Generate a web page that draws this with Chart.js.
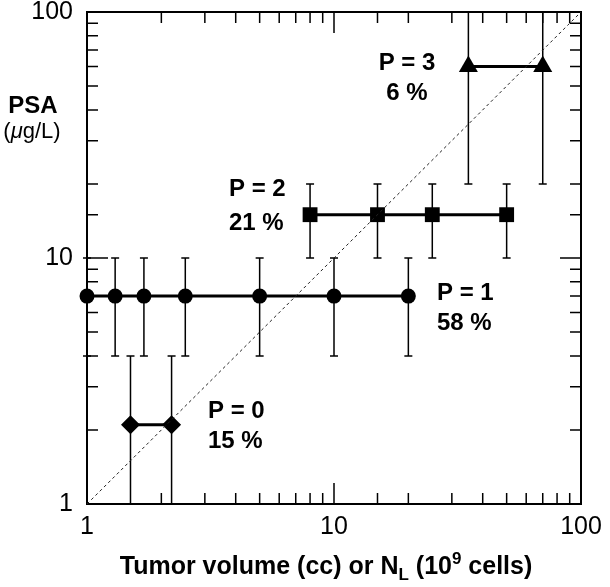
<!DOCTYPE html>
<html>
<head>
<meta charset="utf-8">
<script src="https://cdn.jsdelivr.net/npm/chart.js@4.4.1/dist/chart.umd.min.js"></script>
<style>
  html, body { margin: 0; padding: 0; background: #fff; }
  canvas { display: block; }
</style>
</head>
<body>
<canvas id="psaChart" width="610" height="587"></canvas>
<script>
// tumour volume (x) vs PSA (y) per P group, PSA range gives the error bars
var p0X = [1.5, 2.2];
var p0Y = [2.1, 2.1];
var p0Low = [1, 1];
var p0High = [4, 4];

var p1X = [1, 1.3, 1.7, 2.5, 5, 10, 20];
var p1Y = [7, 7, 7, 7, 7, 7, 7];
var p1Low = [4, 4, 4, 4, 4, 4, 4];
var p1High = [10, 10, 10, 10, 10, 10, 10];

var p2X = [8, 15, 25, 50];
var p2Y = [15, 15, 15, 15];
var p2Low = [10, 10, 10, 10];
var p2High = [20, 20, 20, 20];

var p3X = [35, 70];
var p3Y = [60, 60];
var p3Low = [20, 20];
var p3High = [100, 100];

// y = x reference line
var diagX = [1, 100];
var diagY = [1, 100];

var xTickLabels = [1, 10, 100];
var yTickLabels = [1, 10, 100];

var groupLabels = ['P = 0', 'P = 1', 'P = 2', 'P = 3'];
var groupShares = ['15 %', '58 %', '21 %', '6 %'];

var FONT = '"Liberation Sans", Arial, Helvetica, sans-serif';

function pts(xs, ys) {
    return xs.map(function (x, i) { return { x: x, y: ys[i] }; });
}

function isDecade(v) {
    var l = Math.log10(v);
    return Math.abs(l - Math.round(l)) < 1e-6;
}

function inList(list, v) {
    return list.some(function (t) { return Math.abs(t - v) < 1e-6; });
}

function group(xs, ys, lo, hi, style, r) {
    return {
        data: pts(xs, ys),
        errLow: lo,
        errHigh: hi,
        showLine: true,
        borderColor: '#000',
        borderWidth: 3,
        pointStyle: style,
        pointRadius: r,
        pointBackgroundColor: '#000',
        pointBorderColor: '#000',
        pointBorderWidth: 0,
        clip: false
    };
}

// frame, inward ticks on all four sides, error bars
var framePlugin = {
    id: 'framePlugin',
    beforeDatasetsDraw: function (chart) {
        var ctx = chart.ctx, a = chart.chartArea;
        var xs = chart.scales.x, ys = chart.scales.y;
        ctx.save();
        ctx.strokeStyle = '#000';
        ctx.lineWidth = 1.5;
        ctx.beginPath();
        xs.ticks.forEach(function (t) {
            if (t.value <= 1 || t.value >= 100) return;
            var len = isDecade(t.value) ? 21 : 11;
            var px = xs.getPixelForValue(t.value);
            ctx.moveTo(px, a.bottom); ctx.lineTo(px, a.bottom - len);
            ctx.moveTo(px, a.top); ctx.lineTo(px, a.top + len);
        });
        ys.ticks.forEach(function (t) {
            if (t.value <= 1 || t.value >= 100) return;
            var len = isDecade(t.value) ? 21 : 11;
            var py = ys.getPixelForValue(t.value);
            ctx.moveTo(a.left, py); ctx.lineTo(a.left + len, py);
            ctx.moveTo(a.right, py); ctx.lineTo(a.right - len, py);
        });
        ctx.stroke();

        // error bars
        ctx.lineWidth = 1.5;
        ctx.beginPath();
        chart.data.datasets.forEach(function (ds) {
            if (!ds.errLow) return;
            ds.data.forEach(function (d, j) {
                var px = xs.getPixelForValue(d.x);
                var top = ys.getPixelForValue(ds.errHigh[j]);
                var bot = ys.getPixelForValue(ds.errLow[j]);
                ctx.moveTo(px, top); ctx.lineTo(px, bot);
                ctx.moveTo(px - 4, top); ctx.lineTo(px + 4, top);
                ctx.moveTo(px - 4, bot); ctx.lineTo(px + 4, bot);
            });
        });
        ctx.stroke();

        ctx.lineWidth = 2;
        ctx.strokeRect(a.left, a.top, a.right - a.left, a.bottom - a.top);
        ctx.restore();
    },
    afterDraw: function (chart) {
        var ctx = chart.ctx;
        ctx.save();
        ctx.fillStyle = '#000';
        ctx.textBaseline = 'alphabetic';

        // group annotations
        ctx.font = 'bold 24px ' + FONT;
        ctx.textAlign = 'left';
        ctx.fillText(groupLabels[0], 208, 418);
        ctx.fillText(groupShares[0], 208, 448);
        ctx.fillText(groupLabels[1], 437, 300);
        ctx.fillText(groupShares[1], 437, 330);
        ctx.fillText(groupLabels[2], 229, 196);
        ctx.fillText(groupShares[2], 229, 230);
        ctx.textAlign = 'center';
        ctx.fillText(groupLabels[3], 407, 70);
        ctx.fillText(groupShares[3], 407, 100);

        // y title
        ctx.font = 'bold 24px ' + FONT;
        ctx.fillText('PSA', 33, 113);
        drawRun(ctx, [
            { t: '(', f: '22px ' + FONT },
            { t: '\u03bc', f: 'italic 22px ' + FONT },
            { t: 'g/L)', f: '22px ' + FONT }
        ], 32, 138);

        // x title
        var b = 'bold 25px ' + FONT, s = 'bold 17px ' + FONT;
        drawRun(ctx, [
            { t: 'Tumor volume (cc) or N', f: b },
            { t: 'L', f: s, dy: 6 },
            { t: ' (10', f: b },
            { t: '9', f: s, dy: -10 },
            { t: ' cells)', f: b }
        ], 326, 574);
        ctx.restore();
    }
};

// draws mixed-font text centred on cx
function drawRun(ctx, parts, cx, y) {
    var total = 0;
    parts.forEach(function (p) { ctx.font = p.f; p.w = ctx.measureText(p.t).width; total += p.w; });
    var x = cx - total / 2;
    ctx.textAlign = 'left';
    parts.forEach(function (p) {
        ctx.font = p.f;
        ctx.fillText(p.t, x, y + (p.dy || 0));
        x += p.w;
    });
    ctx.textAlign = 'center';
}

var ctx = document.getElementById('psaChart').getContext('2d');
var psaChart = new Chart(ctx, {
    type: 'scatter',
    data: {
        datasets: [
            {
                data: pts(diagX, diagY),
                showLine: true,
                borderColor: '#222',
                borderWidth: 1,
                borderDash: [3, 3],
                pointRadius: 0
            },
            group(p0X, p0Y, p0Low, p0High, 'rectRot', 9.5),
            group(p1X, p1Y, p1Low, p1High, 'circle', 7.5),
            group(p2X, p2Y, p2Low, p2High, 'rect', 10.5),
            group(p3X, p3Y, p3Low, p3High, 'triangle', 11)
        ]
    },
    options: {
        responsive: false,
        animation: false,
        devicePixelRatio: 1,
        layout: { padding: { top: 12, right: 29, left: 0, bottom: 0 } },
        plugins: {
            legend: { display: false },
            tooltip: { enabled: false }
        },
        scales: {
            x: {
                type: 'logarithmic',
                min: 1,
                max: 100,
                grid: { display: false, drawTicks: false },
                border: { display: false },
                ticks: {
                    autoSkip: false,
                    maxRotation: 0,
                    padding: 8,
                    color: '#000',
                    font: { family: FONT, size: 25 },
                    callback: function (v) { return inList(xTickLabels, v) ? String(Math.round(v)) : ''; }
                },
                afterFit: function (s) { s.height = 83; s.paddingLeft = 0; s.paddingRight = 0; }
            },
            y: {
                type: 'logarithmic',
                min: 1,
                max: 100,
                grid: { display: false, drawTicks: false },
                border: { display: false },
                ticks: {
                    autoSkip: false,
                    padding: 14,
                    color: '#000',
                    font: { family: FONT, size: 25 },
                    callback: function (v) { return inList(yTickLabels, v) ? String(Math.round(v)) : ''; }
                },
                afterFit: function (s) { s.width = 87; s.paddingTop = 0; s.paddingBottom = 0; }
            }
        }
    },
    plugins: [framePlugin]
});
</script>
</body>
</html>
